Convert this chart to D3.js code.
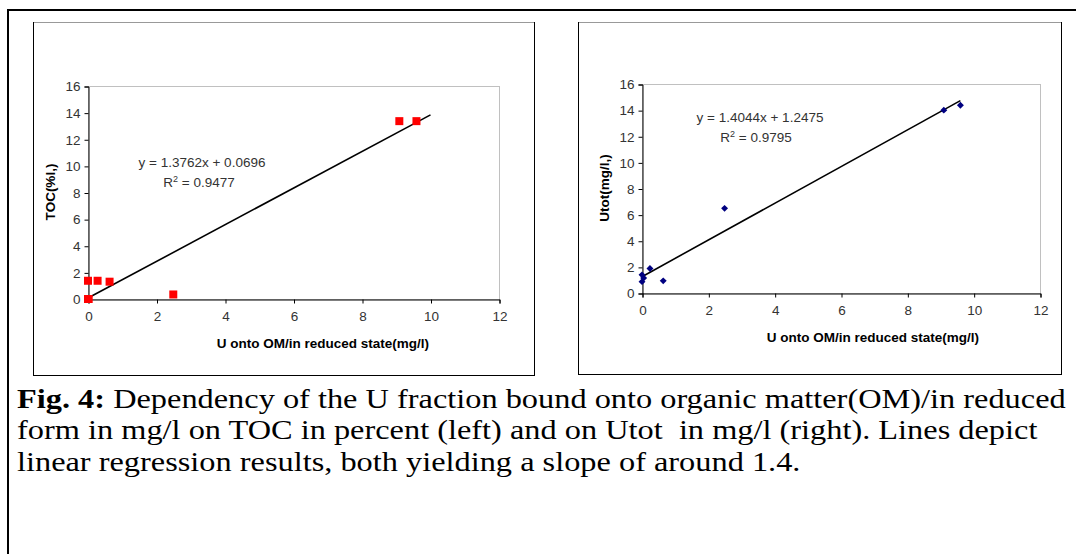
<!DOCTYPE html>
<html>
<head>
<meta charset="utf-8">
<script src="https://cdn.jsdelivr.net/npm/d3@7"></script>
<style>
  body { margin: 0; background: #fff; }
  svg { display: block; }
</style>
</head>
<body>
<script>
// values
var xTicks = [0, 2, 4, 6, 8, 10, 12];
var yTicks = [0, 2, 4, 6, 8, 10, 12, 14, 16];

// left panel: TOC against U bound onto OM
var tocX = [0, 0.02, 0, 0.28, 0.63, 2.49, 9.09, 9.59];
var tocY = [0, 0, 1.37, 1.37, 1.3, 0.34, 13.36, 13.36];
var tocFit = [1.3762, 0.0696];      // slope, intercept
var tocFitRange = [0, 10];
var tocLabels = ["y = 1.3762x + 0.0696", "0.9477"];

// right panel: Utot against U bound onto OM
var utotX = [0, 0, 0.05, 0.24, 0.64, 2.49, 9.1, 9.6];
var utotY = [1.39, 0.87, 1.15, 1.88, 0.93, 6.48, 14.0, 14.38];
var utotFit = [1.4044, 1.2475];
var utotFitRange = [0, 9.6];
var utotLabels = ["y = 1.4044x + 1.2475", "0.9795"];

var xTitle = "U onto OM/in reduced state(mg/l)";
var captionLines = [
  ["Fig. 4:", " Dependency of the U fraction bound onto organic matter(OM)/in reduced"],
  ["", "form in mg/l on TOC in percent (left) and on Utot\u00a0 in mg/l (right). Lines depict"],
  ["", "linear regression results, both yielding a slope of around 1.4."]
];

var W = 1076, H = 554;
var svg = d3.select("body").append("svg")
    .attr("width", W)
    .attr("height", H);

// outer frame (runs off the right and bottom edges)
svg.append("rect")
    .attr("x", 8).attr("y", 10)
    .attr("width", 1100).attr("height", 600)
    .attr("fill", "none")
    .attr("stroke", "#000")
    .attr("stroke-width", 2);

var sans = "'Liberation Sans', Arial, sans-serif";
var fs = 13.5;

function panel(cfg) {
  var g = svg.append("g");

  // chart area frame
  g.append("rect")
      .attr("x", cfg.box[0] + 0.5).attr("y", cfg.box[1] + 0.5)
      .attr("width", cfg.box[2]).attr("height", cfg.box[3])
      .attr("fill", "#fff")
      .attr("stroke", "#000")
      .attr("stroke-width", 1);
  g.append("line")
      .attr("x1", cfg.box[0] + 1).attr("x2", cfg.box[0] + cfg.box[2])
      .attr("y1", cfg.box[1] + 0.5).attr("y2", cfg.box[1] + 0.5)
      .attr("stroke", "#999");

  var x = d3.scaleLinear().domain([0, 12]).range([cfg.plot[0], cfg.plot[0] + cfg.plot[2]]);
  var y = d3.scaleLinear().domain([0, 16]).range([cfg.plot[1] + cfg.plot[3], cfg.plot[1]]);

  // plot area border, grey top and right
  g.append("rect")
      .attr("x", x(0) + 0.5).attr("y", y(16) + 0.5)
      .attr("width", x(12) - x(0)).attr("height", y(0) - y(16))
      .attr("fill", "none")
      .attr("stroke", "#c0c0c0");

  var xAxis = g.append("g")
      .attr("transform", "translate(0.5," + (y(0) + 0.5) + ")")
      .call(d3.axisBottom(x).tickValues(xTicks).tickSize(4).tickPadding(8));
  var yAxis = g.append("g")
      .attr("transform", "translate(" + (x(0) + 0.5) + ",0.5)")
      .call(d3.axisLeft(y).tickValues(yTicks).tickSize(4).tickPadding(4));

  [xAxis, yAxis].forEach(function(a) {
    a.select(".domain").attr("stroke", "#000");
    a.selectAll(".tick line").attr("stroke", "#000");
    a.selectAll("text")
        .attr("font-family", sans)
        .attr("font-size", fs)
        .attr("fill", "#333");
  });

  // trendline
  var line = d3.line()
      .x(function(d) { return x(d); })
      .y(function(d) { return y(cfg.fit[0] * d + cfg.fit[1]); });
  g.append("path")
      .attr("d", line(cfg.fitRange))
      .attr("fill", "none")
      .attr("stroke", "#000")
      .attr("stroke-width", 1.6);

  // markers
  var pts = cfg.xs.map(function(d, i) { return {x: d, y: cfg.ys[i]}; });
  g.append("g").selectAll("path")
      .data(pts)
      .enter().append("path")
      .attr("transform", function(d) {
        return "translate(" + x(d.x) + "," + y(d.y) + ") rotate(" + cfg.rotate + ")";
      })
      .attr("d", d3.symbol().type(d3.symbolSquare).size(cfg.symbolSize))
      .attr("fill", cfg.color);

  // equation
  g.append("text")
      .attr("x", cfg.eq[0]).attr("y", cfg.eq[1])
      .attr("text-anchor", "middle")
      .attr("font-family", sans).attr("font-size", fs).attr("fill", "#333")
      .text(cfg.labels[0]);
  var r2 = g.append("text")
      .attr("x", cfg.r2[0]).attr("y", cfg.r2[1])
      .attr("text-anchor", "middle")
      .attr("font-family", sans).attr("font-size", fs).attr("fill", "#333");
  r2.append("tspan").text("R");
  r2.append("tspan").attr("dy", -5).attr("font-size", 9).text("2");
  r2.append("tspan").attr("dy", 5).text(" = " + cfg.labels[1]);

  // axis titles
  g.append("text")
      .attr("x", cfg.xTitle[0]).attr("y", cfg.xTitle[1])
      .attr("text-anchor", "middle")
      .attr("font-family", sans).attr("font-size", fs).attr("font-weight", "bold")
      .text(xTitle);
  g.append("text")
      .attr("transform", "translate(" + cfg.yTitle[0] + "," + cfg.yTitle[1] + ") rotate(-90)")
      .attr("text-anchor", "middle")
      .attr("font-family", sans).attr("font-size", fs).attr("font-weight", "bold")
      .text(cfg.yName);
}

panel({
  box: [33, 22, 501, 353],
  plot: [88, 86, 411, 213],
  xs: tocX, ys: tocY,
  fit: tocFit, fitRange: tocFitRange, labels: tocLabels,
  symbolSize: 64, rotate: 0, color: "#ff0000",
  eq: [202, 167], r2: [199, 187],
  xTitle: [323, 348], yTitle: [55, 192],
  yName: "TOC(%l,)"
});

panel({
  box: [578, 22, 483, 352],
  plot: [642, 84, 398, 209],
  xs: utotX, ys: utotY,
  fit: utotFit, fitRange: utotFitRange, labels: utotLabels,
  symbolSize: 24, rotate: 45, color: "#000080",
  eq: [760, 122], r2: [756, 142],
  xTitle: [873, 342], yTitle: [609, 188],
  yName: "Utot(mg/l,)"
});

// caption: fit the first line to the width it takes in the figure
var capX = 17, capWidth = 1049;
var capY = [408, 439.5, 471];
var capTexts = captionLines.map(function(l, i) {
  var t = svg.append("text")
      .attr("font-family", "'Liberation Serif', 'Times New Roman', serif")
      .attr("font-size", 28)
      .attr("fill", "#000")
      .attr("y", capY[i]);
  if (l[0]) t.append("tspan").attr("font-weight", "bold").text(l[0]);
  t.append("tspan").text(l[1]);
  return t;
});
var sx = capWidth / capTexts[0].node().getComputedTextLength();
capTexts.forEach(function(t) {
  t.attr("transform", "translate(" + capX + ",0) scale(" + sx + ",1)");
});
</script>
</body>
</html>
